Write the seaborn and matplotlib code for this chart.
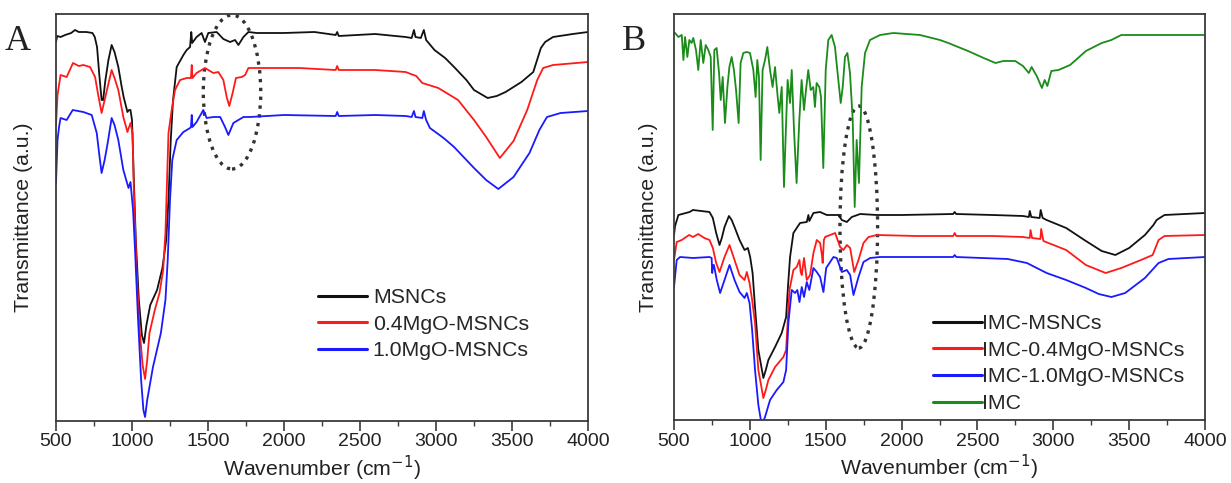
import numpy as np
import pandas as pd
import matplotlib
matplotlib.use("Agg")
import matplotlib.pyplot as plt
import seaborn as sns
from matplotlib.patches import Ellipse
from matplotlib.lines import Line2D
from matplotlib.ticker import MultipleLocator

# ---------------- Panel A data (wavenumber cm-1, transmittance a.u.) ----------------
msn_wn = [500, 508, 530, 560, 600, 625, 650, 700, 740, 755, 770, 785, 800, 810, 825, 845, 866, 885, 910, 930,
          945, 970, 980, 990, 1000, 1010, 1025, 1045, 1065, 1079, 1095, 1120, 1165, 1200, 1225, 1240, 1255, 1270,
          1294, 1338, 1360, 1382, 1390, 1396, 1425, 1458, 1480, 1502, 1557, 1601, 1645, 1678, 1700, 1733, 1766,
          1820, 2000, 2200, 2340, 2350, 2360, 2600, 2800, 2840, 2855, 2865, 2900, 2920, 2935, 2990, 3060, 3119,
          3200, 3250, 3340, 3400, 3458, 3562, 3640, 3665, 3690, 3718, 3770, 3900, 4000]
msn_t = [379, 385, 384, 386, 388, 391, 389, 389, 388, 384, 374, 346, 321, 321, 341, 361, 376, 369, 354, 336,
         324, 309, 311, 311, 301, 251, 181, 121, 86, 78, 96, 116, 131, 153, 181, 221, 281, 321,
         354, 366, 371, 374, 389, 378, 384, 388, 379, 388, 389, 382, 379, 381, 376, 384, 389,
         388, 388, 389, 386, 389, 385, 387, 384, 383, 391, 384, 383, 391, 381, 371, 363, 354,
         341, 331, 323, 325, 329, 339, 349, 361, 373, 379, 384, 387, 389]

mg04_wn = [500, 510, 530, 570, 612, 650, 680, 724, 757, 780, 800, 820, 840, 866, 885, 910, 943, 970, 990, 1004,
           1012, 1030, 1050, 1070, 1086, 1100, 1115, 1150, 1181, 1205, 1220, 1240, 1261, 1283, 1316, 1360, 1388,
           1393, 1398, 1425, 1480, 1535, 1568, 1601, 1623, 1640, 1662, 1684, 1722, 1744, 1766, 1820, 2100, 2340,
           2350, 2360, 2600, 2800, 2870, 2910, 3015, 3145, 3250, 3330, 3420, 3510, 3600, 3666, 3705, 3770, 4000]
mg04_t = [296, 326, 346, 344, 358, 355, 356, 354, 344, 324, 308, 321, 334, 351, 343, 331, 304, 289, 298, 288,
          231, 151, 91, 56, 42, 61, 88, 111, 128, 151, 188, 288, 311, 331, 341, 343, 343,
          356, 343, 348, 353, 348, 349, 341, 324, 315, 328, 343, 344, 346, 353, 353, 353, 351,
          355, 351, 351, 349, 345, 338, 333, 321, 301, 284, 263, 280, 311, 341, 353, 356, 359]

mg10_wn = [500, 510, 520, 530, 570, 610, 680, 735, 768, 785, 800, 820, 840, 866, 885, 910, 943, 977, 990, 1007,
           1020, 1040, 1060, 1075, 1086, 1100, 1138, 1190, 1220, 1235, 1250, 1265, 1294, 1338, 1382, 1388, 1393,
           1398, 1425, 1469, 1491, 1535, 1580, 1612, 1634, 1667, 1733, 1777, 2000, 2340, 2350, 2360, 2600, 2800,
           2840, 2855, 2865, 2910, 2920, 2935, 2960, 3050, 3119, 3250, 3330, 3410, 3510, 3615, 3680, 3730, 3820, 4000]
mg10_t = [238, 281, 294, 303, 301, 311, 309, 306, 288, 266, 248, 261, 278, 303, 296, 281, 251, 233, 239, 211,
          171, 101, 41, 11, 4, 21, 54, 88, 121, 161, 221, 261, 281, 289, 293, 294, 306,
          294, 299, 311, 303, 304, 304, 294, 286, 298, 304, 304, 306, 305, 309, 305, 306, 305,
          304, 310, 304, 303, 310, 301, 293, 283, 274, 253, 241, 232, 244, 268, 291, 304, 308, 310]

labels_a = ["MSNCs", "0.4MgO-MSNCs", "1.0MgO-MSNCs"]

# ---------------- Panel B data ----------------
imc_msn_wn = [500, 507, 529, 603, 625, 680, 734, 756, 778, 800, 815, 833, 862, 880, 899, 932, 965, 987, 1002, 1018,
              1034, 1056, 1089, 1105, 1122, 1166, 1210, 1239, 1252, 1265, 1287, 1331, 1375, 1386, 1392, 1419, 1463,
              1507, 1584, 1606, 1639, 1672, 1727, 1837, 2000, 2340, 2350, 2360, 2600, 2800, 2839, 2845, 2855,
              2910, 2917, 2930, 2956, 3085, 3215, 3319, 3409, 3500, 3604, 3660, 3681, 3733, 4000]
imc_msn_t = [185, 194, 205, 208, 210, 209, 208, 202, 187, 175, 182, 193, 204, 200, 193, 180, 170, 172, 163, 147,
             113, 70, 42, 50, 60, 73, 87, 103, 135, 163, 187, 197, 198, 205, 199, 207, 208,
             205, 205, 200, 198, 203, 206, 205, 205, 206, 208, 206, 205, 204, 203, 209, 203,
             202, 210, 202, 200, 192, 179, 169, 165, 172, 185, 195, 200, 205, 207]

imc_mg04_wn = [500, 518, 551, 580, 600, 625, 660, 700, 734, 756, 778, 800, 833, 866, 899, 932, 965, 980, 998, 1015,
               1034, 1056, 1089, 1105, 1122, 1166, 1221, 1239, 1261, 1287, 1309, 1327, 1335, 1342, 1357, 1375, 1397,
               1419, 1441, 1463, 1475, 1480, 1488, 1496, 1529, 1562, 1595, 1617, 1639, 1661, 1688, 1716, 1749, 1782,
               1837, 2100, 2340, 2350, 2360, 2600, 2800, 2845, 2850, 2860, 2915, 2920, 2935, 3085, 3215, 3345,
               3448, 3578, 3655, 3694, 3733, 4000]
imc_mg04_t = [160, 178, 180, 183, 185, 183, 186, 182, 180, 172, 157, 148, 163, 175, 160, 145, 140, 148, 137, 120,
              97, 50, 22, 30, 40, 53, 63, 70, 130, 150, 153, 160, 148, 145, 162, 140, 145,
              167, 180, 177, 165, 157, 180, 183, 185, 187, 173, 170, 175, 172, 148, 160, 177, 183,
              185, 184, 184, 187, 184, 184, 183, 182, 190, 182, 181, 191, 179, 170, 155, 147,
              152, 160, 165, 180, 184, 185]

imc_mg10_wn = [500, 518, 540, 625, 734, 748, 752, 758, 763, 782, 804, 833, 866, 899, 932, 965, 980, 998, 1015, 1034,
               1056, 1078, 1100, 1133, 1177, 1221, 1239, 1254, 1276, 1298, 1313, 1327, 1342, 1357, 1375, 1392, 1419,
               1441, 1463, 1485, 1503, 1551, 1573, 1606, 1639, 1661, 1683, 1716, 1749, 1793, 1859, 2340, 2350, 2360,
               2700, 2826, 2956, 3085, 3215, 3300, 3383, 3474, 3604, 3694, 3759, 4000]
imc_mg10_t = [133, 160, 163, 162, 163, 162, 147, 155, 155, 140, 127, 140, 155, 140, 128, 122, 127, 117, 90, 50,
              15, -5, 3, 20, 30, 38, 50, 97, 130, 127, 130, 118, 133, 123, 138, 130, 152,
              148, 143, 128, 152, 163, 162, 148, 150, 145, 125, 143, 158, 162, 163, 163, 165, 163,
              161, 157, 147, 140, 132, 126, 123, 127, 142, 157, 161, 163]

imc_wn = [500, 507, 529, 551, 562, 573, 588, 601, 616, 627, 645, 660, 676, 693, 709, 726, 742, 755, 766, 781,
          797, 808, 821, 836, 852, 865, 880, 895, 909, 926, 939, 957, 979, 1001, 1023, 1038, 1049, 1060, 1071,
          1084, 1100, 1115, 1133, 1150, 1166, 1181, 1194, 1210, 1225, 1238, 1249, 1265, 1276, 1291, 1308, 1326,
          1341, 1357, 1370, 1385, 1401, 1418, 1429, 1440, 1458, 1469, 1484, 1500, 1517, 1539, 1561, 1583, 1599,
          1612, 1627, 1643, 1660, 1678, 1691, 1704, 1719, 1737, 1759, 1792, 1858, 1946, 2121, 2253, 2308, 2438,
          2541, 2619, 2671, 2749, 2800, 2839, 2857, 2891, 2925, 2943, 2961, 2987, 3034, 3111, 3215, 3319, 3383,
          3448, 3604, 3733, 4000]
imc_t = [387, 387, 383, 385, 360, 383, 363, 380, 377, 382, 370, 350, 380, 357, 375, 370, 363, 290, 370, 372,
         347, 320, 343, 297, 333, 353, 363, 350, 330, 297, 357, 367, 368, 367, 350, 323, 360, 343, 260,
         350, 360, 373, 350, 333, 353, 327, 307, 333, 233, 293, 340, 317, 350, 290, 237, 300,
         340, 310, 330, 350, 330, 333, 313, 337, 333, 323, 252, 350, 380, 385, 373, 340, 317,
         333, 363, 367, 347, 300, 213, 280, 237, 333, 367, 380, 385, 387, 385, 380, 377, 369,
         362, 357, 359, 359, 354, 347, 353, 344, 332, 340, 334, 349, 350, 355, 369, 377, 380,
         385, 385, 385, 385]

labels_b = ["IMC-MSNCs", "IMC-0.4MgO-MSNCs", "IMC-1.0MgO-MSNCs", "IMC"]

colors = ["#111111", "#ff1a1a", "#1a1aff", "#1a8c1a"]

# ---------------- style ----------------
sns.set_style("ticks")
plt.rcParams["font.family"] = ["Liberation Sans", "DejaVu Sans"]
plt.rcParams["axes.edgecolor"] = "#3a3a3a"
plt.rcParams["axes.linewidth"] = 1.3

W, H = 1231, 483
fig = plt.figure(figsize=(W / 100, H / 100), dpi=100)
axA = fig.add_axes([56 / W, 62 / H, 532 / W, 407 / H])
axB = fig.add_axes([674 / W, 63 / H, 531 / W, 406 / H])


def draw(ax, series, labels):
    frames = []
    for (wn, t), lab in zip(series, labels):
        frames.append(pd.DataFrame({"wn": wn, "T": t, "sample": lab}))
    df = pd.concat(frames, ignore_index=True)
    sns.lineplot(data=df, x="wn", y="T", hue="sample", hue_order=labels,
                 palette=colors[:len(labels)], sort=False, estimator=None,
                 linewidth=1.3, ax=ax, legend=False)


draw(axA, [(msn_wn, msn_t), (mg04_wn, mg04_t), (mg10_wn, mg10_t)], labels_a)
draw(axB, [(imc_msn_wn, imc_msn_t), (imc_mg04_wn, imc_mg04_t), (imc_mg10_wn, imc_mg10_t), (imc_wn, imc_t)], labels_b)

for ax, ytop in ((axA, 407), (axB, 406)):
    ax.set_xlim(500, 4000)
    ax.set_ylim(0, ytop)
    ax.xaxis.set_major_locator(MultipleLocator(500))
    ax.xaxis.set_minor_locator(MultipleLocator(250))
    ax.set_yticks([])
    ax.tick_params(axis="x", which="major", direction="out", length=7, width=1.2,
                   labelsize=14, pad=2, colors="#3a3a3a", labelcolor="#222222")
    ax.tick_params(axis="x", which="minor", direction="out", length=3.5, width=1.0, colors="#3a3a3a")
    ax.set_xlabel("Wavenumber (cm$^{-1}$)", fontsize=15.3, color="#222222")
    ax.set_ylabel("Transmittance (a.u.)", fontsize=15.3, color="#222222")
    for s in ax.spines.values():
        s.set_visible(True)

axA.xaxis.set_label_coords(0.5, -0.08)
axB.xaxis.set_label_coords(0.5, -0.08)
axA.yaxis.set_label_coords(-0.0425, 0.5)
axB.yaxis.set_label_coords(-0.031, 0.5)

# dotted ellipses
axA.add_patch(Ellipse((1658, 329), 378, 154, fill=False, ls=":", lw=2.4, ec="#333333"))
axB.add_patch(Ellipse((1718, 193), 248, 242, fill=False, ls=":", lw=2.4, ec="#333333"))

# legends
hA = [Line2D([], [], color=c, lw=2.2) for c in colors[:3]]
axA.legend(hA, labels_a, loc="upper left", bbox_to_anchor=(318 / W, 1 - 288 / H),
           bbox_transform=fig.transFigure, frameon=False, fontsize=15.3, handlelength=2.3,
           handletextpad=0.28, labelspacing=0.36, borderpad=0, borderaxespad=0)
hB = [Line2D([], [], color=c, lw=2.2) for c in colors]
axB.legend(hB, labels_b, loc="upper left", bbox_to_anchor=(933 / W, 1 - 314 / H),
           bbox_transform=fig.transFigure, frameon=False, fontsize=15.3, handlelength=2.3,
           handletextpad=0.0, labelspacing=0.36, borderpad=0, borderaxespad=0)

# panel letters
fig.text(18 / W, 1 - 42 / H, "A", family="Liberation Serif", fontsize=26, ha="center", va="center", color="#222222")
fig.text(634 / W, 1 - 42 / H, "B", family="Liberation Serif", fontsize=26, ha="center", va="center", color="#222222")

fig.savefig("out.png", dpi=100)
